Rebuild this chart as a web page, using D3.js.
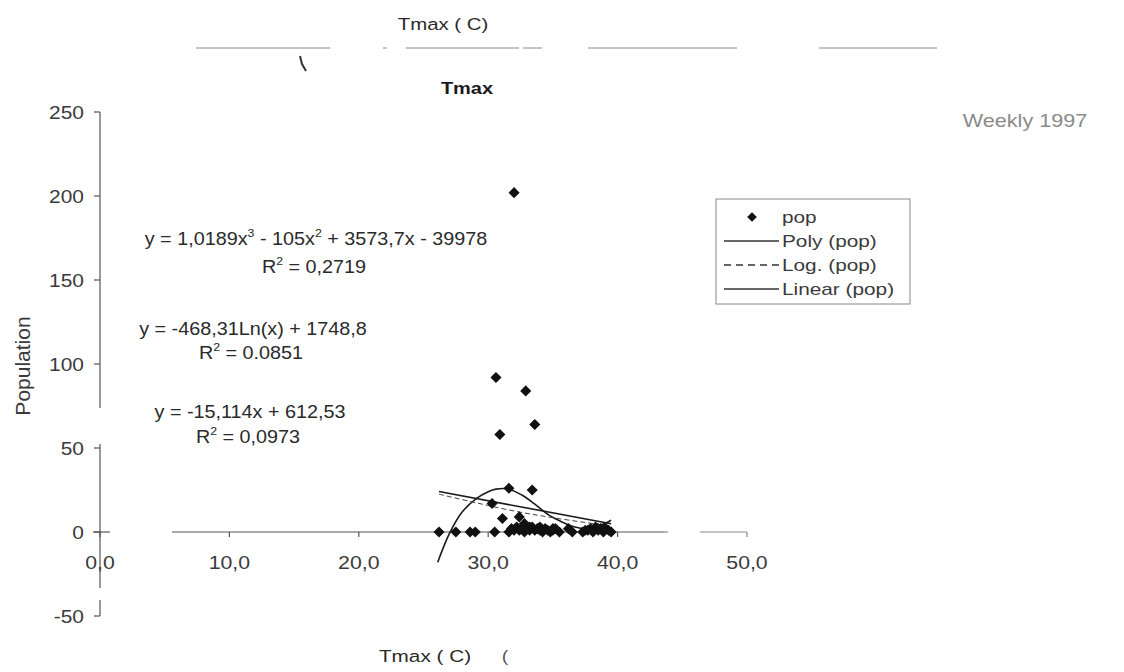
<!DOCTYPE html>
<html><head><meta charset="utf-8">
<script src="https://cdn.jsdelivr.net/npm/d3@7"></script>
<style>body{margin:0;background:#fff}svg{display:block}</style>
</head><body><svg id="c" width="1124" height="672"></svg>
<script>
// ---- data ----
const xTicks = [0, 10, 20, 30, 40, 50];
const xTickLabels = ["0,0", "10,0", "20,0", "30,0", "40,0", "50,0"];
const yTicks = [-50, 0, 50, 100, 150, 200, 250];
const yTickLabels = ["-50", "0", "50", "100", "150", "200", "250"];

const popX = [32.0, 30.6, 32.9, 33.6, 30.9, 31.6, 33.4, 30.3, 31.1, 32.4, 32.8, 33.2, 34.0, 35.0, 36.2, 37.5, 38.5, 39.0,
  26.2, 27.5, 28.6, 29.0, 30.5, 31.6, 31.8, 32.0, 32.2, 32.4, 32.6, 32.8, 33.0, 33.2, 33.4, 33.6, 33.8, 34.0, 34.2, 34.4,
  34.6, 34.8, 35.0, 35.2, 35.5, 36.5, 37.3, 37.7, 37.9, 38.1, 38.3, 38.5, 38.7, 38.9, 39.1, 39.3, 39.5];
const popY = [202, 92, 84, 64, 58, 26, 25, 17, 8, 9, 5, 3, 3, 2, 2, 1, 2, 2,
  0, 0, 0, 0, 0, 0, 2, 1, 3, 1, 2, 0, 2, 1, 3, 1, 2, 1, 0, 2,
  1, 0, 1, 2, 0, 0, 0, 1, 2, 0, 3, 1, 2, 0, 2, 1, 0];

const polyX = [26.1, 27.0, 28.0, 29.1, 30.0, 30.6, 31.6, 32.6, 33.7, 34.7, 35.7, 36.7, 37.5, 38.3, 39.0, 39.5];
const polyY = [-18, -1, 12, 20, 24, 25.5, 25.5, 22, 16, 10, 6, 3, 2, 3, 5, 7];
const logX = [26.2, 29.0, 32.0, 35.0, 39.5];
const logY = [22.5, 17.5, 12.5, 8.5, 3.5];
const linX = [26.2, 39.5];
const linY = [24.1, 4.9];

const legendLabels = ["pop", "Poly (pop)", "Log. (pop)", "Linear (pop)"];
const eqPoly = [["y = 1,0189x", 0], ["3", 1], " - 105x", ["2", 1], " + 3573,7x - 39978"];
const r2Poly = [["R", 0], ["2", 1], [" = 0,2719", 0]];
const eqLog = "y = -468,31Ln(x) + 1748,8";
const r2Log = [["R", 0], ["2", 1], [" = 0.0851", 0]];
const eqLin = "y = -15,114x + 612,53";
const r2Lin = [["R", 0], ["2", 1], [" = 0,0973", 0]];

// ---- drawing ----
const svg = d3.select("#c");
const FONT = "Liberation Sans, Arial, sans-serif";
const ink = "#2a2a2a";

function T(x, y, parts, o = {}) {
  const size = o.size || 14;
  const t = svg.append("text")
    .attr("transform", `translate(${x},${y}) scale(${o.sx || 1.15},1)`)
    .attr("text-anchor", o.anchor || "start")
    .attr("font-family", FONT)
    .attr("font-size", size)
    .attr("font-weight", o.weight || "normal")
    .attr("fill", o.fill || ink);
  if (typeof parts === "string") { t.text(parts); return t; }
  let prevSup = false;
  parts.forEach(p => {
    const s = typeof p === "string" ? [p, 0] : p;
    const ts = t.append("tspan").text(s[0]);
    if (s[1]) ts.attr("font-size", size * 0.62).attr("dy", -size * 0.42);
    else if (prevSup) ts.attr("dy", size * 0.42);
    prevSup = !!s[1];
  });
  return t;
}

const x = d3.scaleLinear().domain([0, 50]).range([100, 747]);
const y = d3.scaleLinear().domain([-50, 250]).range([616, 112]);

// axes (scan has small dropouts in the axis lines)
const axCol = "#555";
function seg(x1, y1, x2, y2, col, w, dash) {
  return svg.append("line").attr("x1", x1).attr("x2", x2).attr("y1", y1).attr("y2", y2)
    .attr("stroke", col || axCol).attr("stroke-width", w || 1.2).attr("stroke-dasharray", dash || null);
}
seg(x(0), y(250), x(0), 408);
seg(x(0), 444, x(0), 588);
seg(x(0), 600, x(0), y(-50));
seg(x(0) - 7, y(0), x(0) + 10, y(0));
seg(172, y(0), 664, y(0));
seg(664, y(0), 668, y(0), "#888", 1.2);
seg(700, y(0), x(50), y(0), "#888", 1.2);
yTicks.forEach((v, i) => {
  seg(x(0) - 6, y(v), x(0), y(v));
  T(x(0) - 16, y(v) + 7, yTickLabels[i], { anchor: "end", size: 19, sx: 1.1, fill: "#3a3a3a" });
});
xTicks.forEach((v, i) => {
  seg(x(v), y(0), x(v), y(0) + 5, i >= 5 ? "#888" : axCol);
  T(x(v), y(0) + 37, xTickLabels[i], { anchor: "middle", size: 19, sx: 1.12, fill: "#3a3a3a" });
});

// axis titles
T(425, 662, "Tmax ( C)", { anchor: "middle", size: 17, sx: 1.22, fill: "#2a2a2a" });
T(505, 662, "(", { anchor: "middle", size: 17, fill: "#555" });
svg.append("text").attr("transform", "translate(30,366) rotate(-90)")
  .attr("text-anchor", "middle").attr("font-family", FONT).attr("font-size", 21)
  .attr("fill", "#3a3a3a").text("Population");

// top decorations
T(443, 30, "Tmax ( C)", { anchor: "middle", size: 17, sx: 1.2, fill: "#2a2a2a" });
[[196, 330], [383, 387], [406, 519], [523, 542], [588, 737], [819, 937]].forEach(s => {
  seg(s[0], 48, s[1], 48, "#888", 1);
});
svg.append("path").attr("d", "M300,56 L302,64 L306,71").attr("stroke", "#333").attr("fill", "none").attr("stroke-width", 2);
T(467, 94, "Tmax", { anchor: "middle", size: 16, sx: 1.25, weight: "bold", fill: "#1a1a1a" });
T(1025, 127, "Weekly 1997", { anchor: "middle", size: 18, sx: 1.2, fill: "#8a8a8a" });

// trend lines
const line = d3.line().x(d => x(d[0])).y(d => y(d[1]));
const lineC = d3.line().x(d => x(d[0])).y(d => y(d[1])).curve(d3.curveCatmullRom);
svg.append("path").attr("d", lineC(polyX.map((v, i) => [v, polyY[i]]))).attr("fill", "none")
  .attr("stroke", "#1a1a1a").attr("stroke-width", 1.6);
svg.append("path").attr("d", lineC(logX.map((v, i) => [v, logY[i]]))).attr("fill", "none")
  .attr("stroke", "#444").attr("stroke-width", 1).attr("stroke-dasharray", "5,3");
svg.append("path").attr("d", line(linX.map((v, i) => [v, linY[i]]))).attr("fill", "none")
  .attr("stroke", "#1a1a1a").attr("stroke-width", 1.6);

// points
const sym = d3.symbol().type(d3.symbolDiamond2).size(78);
svg.append("g").selectAll("path").data(popX.map((v, i) => [v, popY[i]])).join("path")
  .attr("transform", d => `translate(${x(d[0])},${y(d[1])})`).attr("d", sym).attr("fill", "#111");

// equations
T(316, 245, eqPoly, { anchor: "middle", size: 18, sx: 1.1 });
T(314, 273, r2Poly, { anchor: "middle", size: 18, sx: 1.1 });
T(253, 335, eqLog, { anchor: "middle", size: 18, sx: 1.1 });
T(251, 359, r2Log, { anchor: "middle", size: 18, sx: 1.1 });
T(250, 418, eqLin, { anchor: "middle", size: 18, sx: 1.1 });
T(248, 443, r2Lin, { anchor: "middle", size: 18, sx: 1.1 });

// legend
const lg = { x0: 716, y0: 199, x1: 910, y1: 304 };
svg.append("rect").attr("x", lg.x0).attr("y", lg.y0).attr("width", lg.x1 - lg.x0).attr("height", lg.y1 - lg.y0)
  .attr("fill", "#fff").attr("stroke", "#888").attr("stroke-width", 1);
const rowY = d3.scalePoint().domain(legendLabels).range([217, 289]);
const symL = d3.symbol().type(d3.symbolDiamond2).size(60);
legendLabels.forEach((lab, i) => {
  const yy = rowY(lab);
  if (i === 0) {
    svg.append("path").attr("transform", `translate(752,${yy})`).attr("d", symL).attr("fill", "#111");
  } else {
    seg(724, yy, 779, yy, "#333", 1.3, i === 2 ? "7,5" : null);
  }
  T(782, yy + 6, lab, { size: 16, sx: 1.3, fill: "#3a3a3a" });
});
</script></body></html>
